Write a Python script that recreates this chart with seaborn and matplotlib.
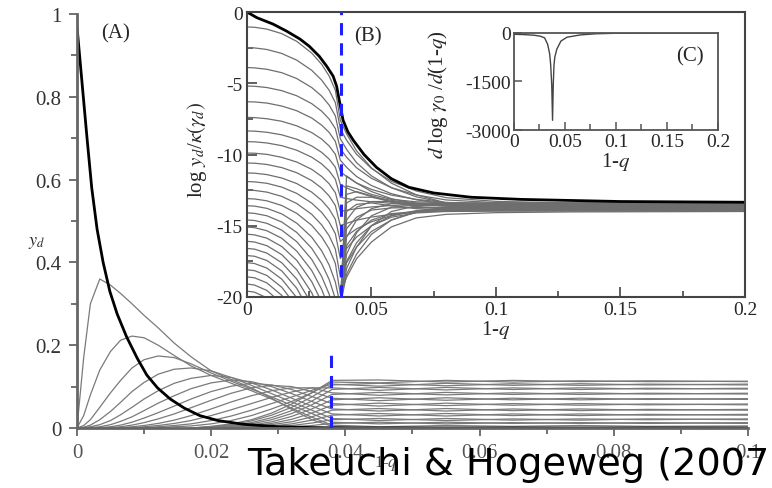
import pandas as pd
import matplotlib
matplotlib.use('Agg')
import matplotlib.pyplot as plt
from matplotlib.ticker import MultipleLocator
import seaborn as sns

threshold = 0.0378  # error threshold (blue dashed line)

# ---------------- panel A: y_d vs 1-q ----------------
xa = [0, 0.001, 0.002, 0.0034, 0.005, 0.0065, 0.0082, 0.01, 0.0121, 0.0145, 0.017,
      0.02, 0.023, 0.026, 0.029, 0.032, 0.035, 0.038, 0.045, 0.055, 0.065, 0.075, 0.085, 0.1]
a_peaked = [
    [0, 0.17, 0.3, 0.36, 0.345, 0.325, 0.3, 0.272, 0.242, 0.205, 0.172, 0.138, 0.117, 0.097, 0.072, 0.045, 0.02,
     0.004, 0.0, 0.001, 0.0, 0.001, 0.0, 0.0],
    [0, 0.03, 0.08, 0.14, 0.185, 0.212, 0.222, 0.218, 0.2, 0.175, 0.15, 0.127, 0.108, 0.09, 0.07, 0.048, 0.026,
     0.007, 0.003, 0.006, 0.004, 0.006, 0.004, 0.005],
    [0, 0.006, 0.02, 0.05, 0.085, 0.115, 0.145, 0.165, 0.174, 0.17, 0.155, 0.133, 0.113, 0.094, 0.075, 0.055, 0.035,
     0.014, 0.01, 0.014, 0.011, 0.013, 0.011, 0.013],
    [0, 0.002, 0.007, 0.02, 0.04, 0.062, 0.088, 0.11, 0.13, 0.142, 0.145, 0.138, 0.122, 0.103, 0.083, 0.063, 0.043,
     0.023, 0.018, 0.023, 0.019, 0.022, 0.02, 0.022],
    [0, 0.001, 0.003, 0.008, 0.018, 0.032, 0.05, 0.07, 0.09, 0.108, 0.12, 0.127, 0.122, 0.109, 0.092, 0.072, 0.053,
     0.034, 0.029, 0.035, 0.03, 0.034, 0.031, 0.033],
    [0, 0, 0.001, 0.003, 0.008, 0.016, 0.027, 0.042, 0.06, 0.078, 0.095, 0.109, 0.116, 0.112, 0.1, 0.083, 0.064,
     0.046, 0.041, 0.047, 0.042, 0.046, 0.043, 0.045],
    [0, 0, 0, 0.001, 0.003, 0.007, 0.014, 0.024, 0.037, 0.053, 0.07, 0.088, 0.101, 0.108, 0.104, 0.093, 0.076,
     0.059, 0.053, 0.06, 0.055, 0.059, 0.056, 0.058],
    [0, 0, 0, 0, 0.001, 0.003, 0.007, 0.013, 0.022, 0.034, 0.049, 0.067, 0.084, 0.097, 0.103, 0.1, 0.088,
     0.072, 0.066, 0.073, 0.068, 0.072, 0.069, 0.071],
    [0, 0, 0, 0, 0, 0.001, 0.003, 0.006, 0.011, 0.019, 0.03, 0.046, 0.063, 0.078, 0.09, 0.097, 0.097,
     0.085, 0.079, 0.086, 0.081, 0.085, 0.082, 0.084],
    [0, 0, 0, 0, 0, 0, 0.001, 0.003, 0.006, 0.011, 0.018, 0.03, 0.044, 0.059, 0.074, 0.087, 0.097,
     0.097, 0.091, 0.098, 0.093, 0.097, 0.094, 0.096],
    [0, 0, 0, 0, 0, 0, 0, 0.001, 0.003, 0.006, 0.01, 0.018, 0.029, 0.043, 0.059, 0.075, 0.091,
     0.106, 0.101, 0.108, 0.103, 0.107, 0.104, 0.106],
    [0, 0, 0, 0, 0, 0, 0, 0, 0.001, 0.003, 0.005, 0.01, 0.018, 0.03, 0.046, 0.064, 0.085,
     0.111, 0.109, 0.115, 0.111, 0.114, 0.112, 0.113],
]
# late-rising classes, sampled from 1-q = 0.017 onwards
xa_late = xa[10:]
a_late = [
    [0, 0.004, 0.01, 0.02, 0.036, 0.058, 0.085, 0.115, 0.116, 0.111, 0.115, 0.112, 0.114, 0.112],
    [0, 0.003, 0.008, 0.017, 0.031, 0.05, 0.075, 0.104, 0.108, 0.102, 0.107, 0.103, 0.106, 0.104],
    [0, 0.002, 0.006, 0.013, 0.025, 0.042, 0.065, 0.093, 0.098, 0.092, 0.097, 0.093, 0.096, 0.094],
    [0, 0.001, 0.004, 0.01, 0.02, 0.035, 0.056, 0.081, 0.086, 0.08, 0.085, 0.081, 0.084, 0.082],
    [0, 0.001, 0.003, 0.007, 0.015, 0.028, 0.046, 0.068, 0.073, 0.067, 0.072, 0.068, 0.071, 0.069],
    [0, 0, 0.002, 0.005, 0.011, 0.021, 0.036, 0.055, 0.06, 0.054, 0.059, 0.055, 0.058, 0.056],
    [0, 0, 0.001, 0.003, 0.008, 0.015, 0.027, 0.043, 0.047, 0.041, 0.046, 0.042, 0.045, 0.043],
    [0, 0, 0, 0.002, 0.005, 0.01, 0.019, 0.031, 0.035, 0.029, 0.034, 0.03, 0.033, 0.031],
    [0, 0, 0, 0.001, 0.003, 0.006, 0.012, 0.02, 0.023, 0.018, 0.022, 0.019, 0.022, 0.02],
    [0, 0, 0, 0, 0.001, 0.003, 0.006, 0.011, 0.014, 0.01, 0.013, 0.011, 0.013, 0.011],
]
xa_master = [0, 0.0005, 0.001, 0.0015, 0.0022, 0.003, 0.0039, 0.0049, 0.006, 0.0074, 0.009, 0.0104,
             0.012, 0.0139, 0.016, 0.0183, 0.021, 0.0248, 0.03, 0.035, 0.04, 0.1]
ya_master = [0.97, 0.88, 0.79, 0.7, 0.58, 0.48, 0.40, 0.33, 0.275, 0.22, 0.168, 0.128,
             0.097, 0.07, 0.048, 0.03, 0.018, 0.009, 0.003, 0.001, 0.0, 0.0]
a_dash_top = 0.19

# ---------------- panel B: log y_d / kappa(gamma_d) ----------------
xb = [0.0005, 0.003, 0.008, 0.014, 0.020, 0.026, 0.030, 0.033, 0.0355, 0.0375,
      0.040, 0.044, 0.05, 0.058, 0.068, 0.08, 0.1, 0.13, 0.2]
b_curves = [
    [-1.05, -1.07, -1.2, -1.52, -2.06, -2.88, -3.67, -4.49, -5.49, -7.6, -8.55, -9.74, -10.94, -12.01, -12.83, -13.4, -13.71, -13.84, -13.9],
    [-2.5, -2.52, -2.63, -2.91, -3.38, -4.09, -4.78, -5.49, -6.36, -8.2, -8.99, -9.98, -10.98, -11.88, -12.56, -13.03, -13.29, -13.4, -13.45],
    [-3.9, -3.92, -4.02, -4.26, -4.67, -5.3, -5.9, -6.53, -7.29, -8.9, -9.64, -10.57, -11.5, -12.33, -12.97, -13.41, -13.65, -13.75, -13.8],
    [-5.2, -5.21, -5.3, -5.52, -5.88, -6.43, -6.96, -7.51, -8.18, -9.6, -10.19, -10.93, -11.67, -12.33, -12.84, -13.19, -13.38, -13.46, -13.5],
    [-6.3, -6.31, -6.39, -6.6, -6.93, -7.44, -7.94, -8.45, -9.08, -10.4, -10.9, -11.54, -12.18, -12.75, -13.18, -13.48, -13.65, -13.72, -13.75],
    [-7.4, -7.41, -7.49, -7.67, -7.99, -8.46, -8.92, -9.4, -9.98, -11.2, -11.55, -12.0, -12.45, -12.85, -13.15, -13.36, -13.48, -13.53, -13.55],
    [-8.35, -8.36, -8.44, -8.62, -8.93, -9.4, -9.85, -10.32, -10.89, -12.1, -12.34, -12.64, -12.95, -13.22, -13.43, -13.57, -13.65, -13.68, -13.7],
    [-9.1, -9.11, -9.19, -9.38, -9.7, -10.19, -10.66, -11.15, -11.74, -13.0, -13.09, -13.2, -13.32, -13.42, -13.5, -13.55, -13.58, -13.59, -13.6],
    [-9.9, -9.91, -9.99, -10.2, -10.53, -11.04, -11.54, -12.05, -12.68, -14.0, -13.91, -13.8, -13.68, -13.58, -13.5, -13.45, -13.42, -13.41, -13.4],
    [-10.6, -10.61, -10.7, -10.92, -11.28, -11.83, -12.36, -12.91, -13.58, -15.0, -14.83, -14.61, -14.39, -14.2, -14.05, -13.94, -13.88, -13.86, -13.85],
    [-11.3, -11.31, -11.41, -11.65, -12.04, -12.64, -13.22, -13.82, -14.55, -16.1, -15.71, -15.22, -14.72, -14.28, -13.94, -13.71, -13.58, -13.53, -13.5],
    [-11.9, -11.92, -12.02, -12.29, -12.73, -13.41, -14.06, -14.74, -15.56, -17.3, -16.6, -15.8, -15.0, -14.4, -14.1, -14.0, -13.97, -13.96, -13.95],
    [-12.5, -12.52, -12.64, -12.94, -13.44, -14.2, -14.94, -15.7, -16.64, -18.6, -17.6, -16.5, -15.4, -14.6, -14.0, -13.75, -13.68, -13.66, -13.65],
    [-13.1, -13.12, -13.25, -13.58, -14.13, -14.97, -15.78, -16.62, -17.64, -19.8, -18.62, -17.32, -16.14, -15.08, -14.45, -14.2, -14.08, -14.03, -14.0],
    [-13.6, -13.62, -13.78, -14.17, -14.82, -15.8, -16.76, -17.75, -18.96, -20.6, -18.4, -17.0, -15.6, -14.6, -14.05, -13.8, -13.72, -13.7, -13.7],
    [-14.1, -14.13, -14.3, -14.74, -15.47, -16.58, -17.66, -18.77, -20.13, -20.6, -18.0, -16.5, -15.0, -14.0, -13.6, -13.48, -13.45, -13.45, -13.45],
    [-14.6, -14.63, -14.83, -15.31, -16.12, -17.36, -18.56, -19.8, -21.31, -20.6, -17.5, -16.2, -15.0, -14.3, -13.98, -13.88, -13.86, -13.85, -13.85],
    [-15.1, -15.13, -15.35, -15.88, -16.78, -18.14, -19.46, -20.82, -22.49, -20.6, -17.0, -15.5, -14.3, -13.7, -13.55, -13.52, -13.55, -13.55, -13.55],
    [-15.6, -15.64, -15.87, -16.46, -17.43, -18.92, -20.36, -21.85, -23.67, -20.6, -16.4, -15.4, -14.6, -14.15, -14.0, -13.97, -13.95, -13.95, -13.95],
    [-16.1, -16.14, -16.4, -17.03, -18.09, -19.7, -21.26, -22.87, -24.85, -20.6, -15.8, -14.6, -13.8, -13.45, -13.45, -13.55, -13.6, -13.6, -13.6],
    [-16.6, -16.64, -16.92, -17.6, -18.74, -20.48, -22.16, -23.9, -26.02, -20.6, -15.2, -14.4, -13.9, -13.75, -13.72, -13.74, -13.75, -13.75, -13.75],
    [-17.1, -17.14, -17.44, -18.17, -19.39, -21.26, -23.06, -24.92, -27.2, -20.6, -14.6, -13.7, -13.3, -13.3, -13.4, -13.48, -13.5, -13.5, -13.5],
    [-17.6, -17.65, -17.97, -18.75, -20.05, -22.04, -23.96, -25.95, -28.38, -20.6, -14.0, -13.5, -13.4, -13.6, -13.8, -13.88, -13.9, -13.9, -13.9],
    [-18.1, -18.15, -18.49, -19.32, -20.7, -22.82, -24.86, -26.97, -29.56, -20.6, -13.4, -13.0, -13.0, -13.3, -13.55, -13.63, -13.65, -13.65, -13.65],
    [-18.6, -18.65, -19.01, -19.89, -21.36, -23.6, -25.76, -28.0, -30.74, -20.6, -12.8, -12.6, -12.9, -13.35, -13.65, -13.77, -13.8, -13.8, -13.8],
    [-19.1, -19.16, -19.54, -20.46, -22.01, -24.37, -26.66, -29.02, -31.91, -20.6, -12.2, -12.4, -12.8, -13.15, -13.32, -13.38, -13.4, -13.4, -13.4],
    [-19.6, -19.66, -20.06, -21.03, -22.66, -25.15, -27.56, -30.05, -33.09, -20.6, -11.5, -12.0, -12.6, -13.1, -13.45, -13.62, -13.68, -13.7, -13.7],
]
xb_master = [0, 0.004, 0.0105, 0.016, 0.0213, 0.025, 0.029, 0.032, 0.0346, 0.036, 0.0374, 0.0386,
             0.0405, 0.0427, 0.047, 0.052, 0.058, 0.065, 0.075, 0.09, 0.11, 0.15, 0.2]
yb_master = [0, -0.4, -0.85, -1.35, -1.9, -2.4, -3.1, -3.8, -4.5, -5.2, -6.5, -7.6,
             -8.4, -9.0, -10.0, -10.9, -11.7, -12.3, -12.7, -13.0, -13.15, -13.3, -13.35]

# ---------------- panel C: d log gamma_0 / d(1-q) ----------------
xc = [0, 0.01, 0.02, 0.026, 0.03, 0.033, 0.035, 0.036, 0.037, 0.0378, 0.0385, 0.0392, 0.04,
      0.042, 0.046, 0.052, 0.065, 0.08, 0.1, 0.2]
yc = [-40, -50, -70, -100, -150, -350, -650, -1000, -1600, -2700, -1600, -1000, -750,
      -500, -250, -130, -60, -25, -8, 0]


def long_table(x, curves, offset=0):
    rows = []
    for k, ys in enumerate(curves):
        for xv, yv in zip(x, ys):
            rows.append((k + offset, xv, yv))
    return pd.DataFrame(rows, columns=['curve', 'x', 'y'])


sns.set_style('ticks')
plt.rcParams['font.family'] = ['Liberation Serif', 'DejaVu Serif']
plt.rcParams['mathtext.fontset'] = 'stix'
plt.rcParams['axes.unicode_minus'] = False

fig = plt.figure(figsize=(7.72, 4.89), dpi=100)
blue = '#1f1fff'

# ---- A ----
ax_a = fig.add_axes([0.0997, 0.1227, 0.8692, 0.8466])
thin_a = pd.concat([long_table(xa, a_peaked), long_table(xa_late, a_late, offset=100)])
sns.lineplot(data=thin_a, x='x', y='y', units='curve', estimator=None, sort=False,
             color='#7a7a7a', lw=0.9, ax=ax_a, legend=False)
sns.lineplot(x=xa_master, y=ya_master, estimator=None, sort=False, color='black', lw=2.0, ax=ax_a)
ax_a.vlines(threshold, 0, a_dash_top, colors=blue, linestyles=(0, (4, 2.6)), lw=2.2, zorder=5)
ax_a.set_xlim(0, 0.1)
ax_a.set_ylim(0, 1)
ax_a.set_xticks([0, 0.02, 0.04, 0.06, 0.08, 0.1])
ax_a.set_xticklabels(['0', '0.02', '0.04', '0.06', '0.08', '0.1'])
ax_a.set_yticks([0, 0.2, 0.4, 0.6, 0.8, 1])
ax_a.set_yticklabels(['0', '0.2', '0.4', '0.6', '0.8', '1'])
ax_a.xaxis.set_minor_locator(MultipleLocator(0.01))
ax_a.yaxis.set_minor_locator(MultipleLocator(0.1))
for s in ['top', 'right']:
    ax_a.spines[s].set_visible(False)
for s in ['left', 'bottom']:
    ax_a.spines[s].set_color('#666666')
    ax_a.spines[s].set_linewidth(2)
ax_a.tick_params(which='both', direction='out', color='#666666', width=1.3,
                 labelsize=15, labelcolor='#333333', pad=5)
ax_a.tick_params(axis='x', labelcolor='#555555')
ax_a.tick_params(which='major', length=6)
ax_a.tick_params(which='minor', length=4)
ax_a.set_xlabel('')
ax_a.set_ylabel('')

# ---- B ----
ax_b = fig.add_axes([0.3199, 0.3906, 0.6451, 0.5828])
ax_b.set_facecolor('white')
sns.lineplot(data=long_table(xb, b_curves), x='x', y='y', units='curve', estimator=None, sort=False,
             color='#6e6e6e', lw=0.9, ax=ax_b, legend=False)
sns.lineplot(x=xb_master, y=yb_master, estimator=None, sort=False, color='black', lw=2.0, ax=ax_b)
ax_b.axvline(threshold, color=blue, ls=(0, (4, 2.6)), lw=2.2, zorder=5)
ax_b.set_xlim(0, 0.2)
ax_b.set_ylim(-20, 0)
ax_b.set_xticks([0, 0.05, 0.1, 0.15, 0.2])
ax_b.set_xticklabels(['0', '0.05', '0.1', '0.15', '0.2'])
ax_b.set_yticks([0, -5, -10, -15, -20])
ax_b.set_yticklabels(['0', '-5', '-10', '-15', '-20'])
ax_b.xaxis.set_minor_locator(MultipleLocator(0.025))
ax_b.yaxis.set_minor_locator(MultipleLocator(2.5))
for s in ax_b.spines.values():
    s.set_color('#444444')
    s.set_linewidth(1.5)
ax_b.tick_params(which='both', direction='in', color='#444444', width=1.2, labelsize=14, pad=3)
ax_b.tick_params(which='major', length=7)
ax_b.tick_params(which='minor', length=4)
ax_b.set_xlabel(r'1-$q$', fontsize=15, labelpad=0)
ax_b.set_ylabel('')

# ---- C ----
ax_c = fig.add_axes([0.6658, 0.7321, 0.2642, 0.1984])
ax_c.set_facecolor('white')
sns.lineplot(x=xc, y=yc, estimator=None, sort=False, color='#444444', lw=1.0, ax=ax_c)
ax_c.set_xlim(0, 0.2)
ax_c.set_ylim(-3000, 0)
ax_c.set_xticks([0, 0.05, 0.1, 0.15, 0.2])
ax_c.set_xticklabels(['0', '0.05', '0.1', '0.15', '0.2'])
ax_c.set_yticks([0, -1500, -3000])
ax_c.set_yticklabels(['0', '-1500', '-3000'])
ax_c.xaxis.set_minor_locator(MultipleLocator(0.025))
for s in ax_c.spines.values():
    s.set_color('#555555')
    s.set_linewidth(1.3)
ax_c.tick_params(which='both', direction='in', color='#555555', width=1.1, labelsize=14, pad=2)
ax_c.tick_params(which='major', length=6)
ax_c.tick_params(which='minor', length=4)
ax_c.set_xlabel(r'1-$q$', fontsize=15, labelpad=0)
ax_c.set_ylabel('')

# ---- labels placed in figure pixels ----
W, H = 772, 489
def ftext(px, py, s, **kw):
    fig.text(px / W, 1 - py / H, s, **kw)

ftext(37, 243, r'$y_d$', fontsize=13, ha='center', va='center')
ftext(386, 464, r'1-$q$', fontsize=12, ha='center', va='center', color='#444444')
ftext(197, 150, r'log $y_d$/$\kappa(\gamma_d)$', fontsize=15, rotation=90, ha='center', va='center')
ftext(438, 95, r'$d$ log $\gamma_0$ /$d$(1-$q$)', fontsize=15, rotation=90, ha='center', va='center')
ftext(116, 34, '(A)', fontsize=15, ha='center', va='center')
ftext(368, 37, '(B)', fontsize=15, ha='center', va='center')
ftext(690, 57, '(C)', fontsize=15, ha='center', va='center')
ftext(247, 475, 'Takeuchi & Hogeweg (2007)', fontsize=27.5, family='DejaVu Sans',
      ha='left', va='baseline', color='black')

fig.savefig('out.png', dpi=100)
